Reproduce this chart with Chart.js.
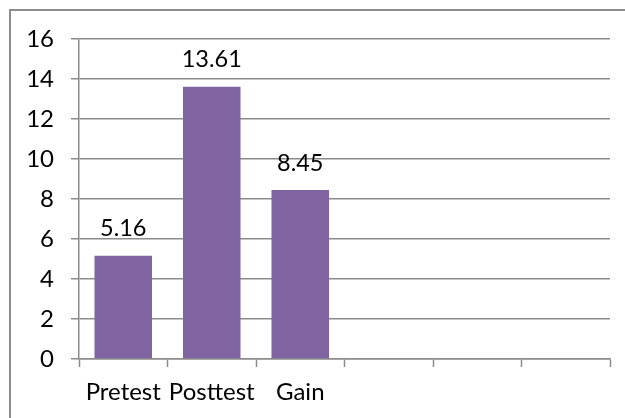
<!DOCTYPE html>
<html>
<head>
<meta charset="utf-8">
<script src="https://cdn.jsdelivr.net/npm/chart.js@4/dist/chart.umd.min.js"></script>
<style>
  html, body { margin: 0; padding: 0; background: #fff; }
  #wrap { width: 625px; height: 418px; position: relative; }
</style>
</head>
<body>
<div id="wrap"><canvas id="chart" width="625" height="418"></canvas></div>
<script>
const categories = ["Pretest", "Posttest", "Gain", "", "", ""];
const scores = [5.16, 13.61, 8.45, null, null, null];
const yTicks = [0, 2, 4, 6, 8, 10, 12, 14, 16];

const FONT = "Lato, 'Open Sans', sans-serif";
const GRID = "#8c8c8c";

// outer frame, cut off on the right and bottom like the source
const framePlugin = {
    id: "frame",
    beforeDraw: (chart) => {
        const ctx = chart.ctx;
        ctx.save();
        ctx.strokeStyle = GRID;
        ctx.lineWidth = 2;
        ctx.strokeRect(10, 10, 700, 500);
        ctx.restore();
    }
};

// value text above every bar
const valuePlugin = {
    id: "values",
    afterDatasetsDraw: (chart) => {
        const ctx = chart.ctx;
        const meta = chart.getDatasetMeta(0);
        ctx.save();
        ctx.font = "23.5px " + FONT;
        ctx.fillStyle = "#000";
        ctx.textAlign = "center";
        ctx.textBaseline = "middle";
        meta.data.forEach((bar, i) => {
            const v = scores[i];
            if (v == null) return;
            ctx.fillText(v.toFixed(2), bar.x, bar.y - 27);
        });
        ctx.restore();
    }
};

new Chart(document.getElementById("chart"), {
    type: "bar",
    data: {
        labels: categories,
        datasets: [{
            data: scores,
            backgroundColor: "#8064a2",
            borderWidth: 0,
            categoryPercentage: 1,
            barPercentage: 0.65
        }]
    },
    options: {
        responsive: false,
        animation: false,
        layout: { padding: { top: 39, right: 15, left: 0, bottom: 0 } },
        plugins: { legend: { display: false }, tooltip: { enabled: false } },
        scales: {
            x: {
                grid: {
                    offset: true,
                    drawOnChartArea: false,
                    drawTicks: true,
                    tickLength: 8,
                    tickWidth: 1.5,
                    tickColor: GRID
                },
                border: { color: GRID, width: 1.5 },
                ticks: {
                    color: "#000",
                    font: { family: FONT, size: 24 },
                    padding: 11,
                    maxRotation: 0,
                    autoSkip: false
                },
                afterFit: (scale) => { scale.height = 59; }
            },
            y: {
                min: 0,
                max: 16,
                afterBuildTicks: (scale) => {
                    scale.ticks = yTicks.map(v => ({ value: v }));
                },
                grid: {
                    color: GRID,
                    lineWidth: 1.5,
                    drawTicks: true,
                    tickLength: 8,
                    tickColor: GRID
                },
                border: { color: GRID, width: 1.5 },
                ticks: {
                    color: "#000",
                    font: { family: FONT, size: 24 },
                    padding: 17
                },
                afterFit: (scale) => { scale.width = 79; }
            }
        }
    },
    plugins: [framePlugin, valuePlugin]
});
</script>
</body>
</html>
